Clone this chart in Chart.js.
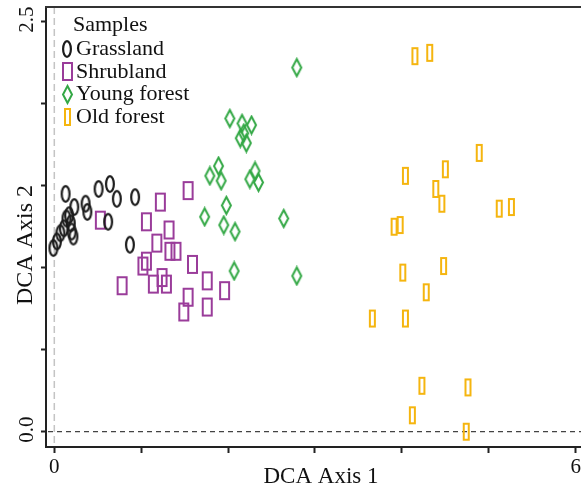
<!DOCTYPE html>
<html><head><meta charset="utf-8">
<script src="https://cdn.jsdelivr.net/npm/chart.js@4.4.1/dist/chart.umd.min.js"></script>
<style>html,body{margin:0;padding:0;background:#fff;overflow:hidden}canvas{display:block}</style>
</head><body>
<canvas id="c" width="581" height="485"></canvas>
<script>
// ---- data ----
const seriesNames = ['Grassland', 'Shrubland', 'Young forest', 'Old forest'];
const legendTitle = 'Samples';
const xTitle = 'DCA Axis 1';
const yTitle = 'DCA Axis 2';
const xTickValues = [0, 1, 2, 3, 4, 5, 6];
const xTickLabels = ['0', '', '', '', '', '', '6'];
const yTickValues = [0, 0.5, 1, 1.5, 2, 2.5];
const yTickLabels = ['0.0', '', '', '', '', '2.5'];

const grassX = [0.13, 0.51, 0.64, 0.72, 0.93, 0.23, 0.36, 0.38, 0.14, 0.17, 0.19, 0.11, 0.20, 0.22, 0.07, 0.03, -0.01, 0.62, 0.87];
const grassY = [1.45, 1.48, 1.51, 1.42, 1.43, 1.37, 1.39, 1.34, 1.30, 1.32, 1.27, 1.24, 1.22, 1.19, 1.21, 1.16, 1.12, 1.28, 1.14];

const shrubX = [0.53, 1.54, 1.22, 1.06, 1.32, 1.18, 1.33, 1.40, 1.06, 1.02, 1.59, 1.24, 1.29, 1.14, 0.78, 1.76, 1.96, 1.54, 1.76, 1.49];
const shrubY = [1.29, 1.47, 1.40, 1.28, 1.23, 1.15, 1.10, 1.10, 1.04, 1.01, 1.02, 0.94, 0.90, 0.90, 0.89, 0.92, 0.86, 0.82, 0.76, 0.73];

const youngX = [2.79, 2.02, 2.16, 2.27, 2.18, 2.14, 2.21, 1.89, 1.79, 1.92, 2.31, 2.25, 2.35, 1.98, 1.73, 1.95, 2.08, 2.64, 2.07, 2.79];
const youngY = [2.22, 1.91, 1.88, 1.87, 1.82, 1.79, 1.76, 1.62, 1.56, 1.53, 1.59, 1.54, 1.52, 1.38, 1.31, 1.26, 1.22, 1.30, 0.98, 0.95];

const oldX = [4.15, 4.32, 4.89, 4.50, 4.04, 4.39, 4.46, 5.12, 5.26, 3.91, 3.98, 4.01, 4.48, 4.28, 3.66, 4.04, 4.23, 4.76, 4.12, 4.74];
const oldY = [2.29, 2.31, 1.70, 1.60, 1.56, 1.48, 1.39, 1.36, 1.37, 1.25, 1.26, 0.97, 1.01, 0.85, 0.69, 0.69, 0.28, 0.27, 0.10, 0.00];

// ---- styling ----
const SERIF = '"Liberation Serif", "Times New Roman", serif';
const colors = ['#1c1c1c', '#9a3c9a', '#33a845', '#f5b50f'];

function makeMarker(kind, color, w, h, lw) {
  const c = document.createElement('canvas');
  c.width = w + 2; c.height = h + 2;
  const g = c.getContext('2d');
  g.strokeStyle = color; g.lineWidth = lw;
  const cx = c.width / 2, cy = c.height / 2, rw = (w - lw) / 2, rh = (h - lw) / 2;
  g.beginPath();
  if (kind === 'ellipse') g.ellipse(cx, cy, rw, rh, 0, 0, Math.PI * 2);
  else if (kind === 'rect') g.rect(cx - rw, cy - rh, 2 * rw, 2 * rh);
  else { g.moveTo(cx, cy - rh); g.lineTo(cx + rw, cy); g.lineTo(cx, cy + rh); g.lineTo(cx - rw, cy); g.closePath(); }
  g.stroke();
  return c;
}
const markers = [
  makeMarker('ellipse', colors[0], 10, 18, 2.2),
  makeMarker('rect', colors[1], 11, 19, 2),
  makeMarker('diamond', colors[2], 11, 19, 2),
  makeMarker('rect', colors[3], 7, 18, 2)
];

const toPts = (xs, ys) => xs.map((v, i) => ({ x: v, y: ys[i] }));
const seriesData = [toPts(grassX, grassY), toPts(shrubX, shrubY), toPts(youngX, youngY), toPts(oldX, oldY)];

const overlay = {
  id: 'overlay',
  beforeDatasetsDraw(chart) {
    const { ctx, chartArea: a, scales: { x, y } } = chart;
    ctx.save();
    const x0 = x.getPixelForValue(0);
    ctx.strokeStyle = '#c4c4c4'; ctx.lineWidth = 1.5; ctx.setLineDash([7, 4]);
    ctx.beginPath(); ctx.moveTo(x0, a.top); ctx.lineTo(x0, a.bottom); ctx.stroke();
    const y0 = y.getPixelForValue(0);
    ctx.strokeStyle = '#444'; ctx.lineWidth = 1.2; ctx.setLineDash([5, 4]);
    ctx.beginPath(); ctx.moveTo(a.left + 2, y0); ctx.lineTo(a.right, y0); ctx.stroke();
    ctx.setLineDash([]);
    ctx.strokeStyle = '#333'; ctx.lineWidth = 2;
    ctx.beginPath(); ctx.moveTo(a.left - 1, a.top); ctx.lineTo(a.right, a.top); ctx.stroke();
    ctx.restore();
  },
  afterDraw(chart) {
    const { ctx, scales: { y } } = chart;
    ctx.save();
    ctx.fillStyle = '#111';
    ctx.font = '21px ' + SERIF;
    ctx.textAlign = 'center'; ctx.textBaseline = 'alphabetic';
    yTickValues.forEach((v, i) => {
      if (!yTickLabels[i]) return;
      ctx.save();
      ctx.translate(33, y.getPixelForValue(v) - 2);
      ctx.rotate(-Math.PI / 2);
      ctx.fillText(yTickLabels[i], 0, 0);
      ctx.restore();
    });
    ctx.font = '23px ' + SERIF;
    ctx.fillText(xTitle, 321, 483);
    ctx.save();
    ctx.font = '24px ' + SERIF;
    ctx.translate(32, 245);
    ctx.rotate(-Math.PI / 2);
    ctx.fillText(yTitle, 0, 0);
    ctx.restore();
    ctx.font = '22px ' + SERIF;
    ctx.textAlign = 'left';
    ctx.fillText(legendTitle, 73, 31);
    seriesNames.forEach((name, i) => {
      const cy = 49 + i * 22.5;
      const m = markers[i];
      ctx.drawImage(m, Math.round(67 - m.width / 2), Math.round(cy - m.height / 2));
      ctx.fillText(name, 76, 55 + i * 22.5);
    });
    ctx.restore();
  }
};

new Chart(document.getElementById('c'), {
  type: 'scatter',
  data: {
    datasets: seriesNames.map((name, i) => ({
      label: name,
      data: seriesData[i],
      pointStyle: markers[i],
      pointRadius: 8,
      pointHoverRadius: 8
    }))
  },
  options: {
    responsive: false,
    animation: false,
    events: [],
    layout: { autoPadding: false, padding: { top: 7, right: 0, left: 0, bottom: 0 } },
    plugins: { legend: { display: false }, tooltip: { enabled: false }, title: { display: false } },
    scales: {
      x: {
        type: 'linear', position: 'bottom', min: -0.0955, max: 6.061,
        afterBuildTicks: s => { s.ticks = xTickValues.map(v => ({ value: v })); },
        afterFit: s => { s.height = 38; s.paddingLeft = 0; s.paddingRight = 0; },
        ticks: {
          autoSkip: false, maxRotation: 0, minRotation: 0, padding: 2,
          callback: v => xTickLabels[xTickValues.indexOf(v)] || '',
          font: { family: SERIF, size: 21 }, color: '#111'
        },
        grid: { display: true, drawOnChartArea: false, drawTicks: true, tickLength: 6, tickWidth: 2, color: '#222' },
        border: { display: true, color: '#222', width: 2 }
      },
      y: {
        type: 'linear', position: 'left', min: -0.0933, max: 2.5896,
        afterBuildTicks: s => { s.ticks = yTickValues.map(v => ({ value: v })); },
        afterFit: s => { s.width = 46; s.paddingTop = 0; s.paddingBottom = 0; },
        ticks: { display: false },
        grid: { display: true, drawOnChartArea: false, drawTicks: true, tickLength: 5, tickWidth: 2, color: '#222' },
        border: { display: true, color: '#222', width: 2 }
      }
    }
  },
  plugins: [overlay]
});
</script>
</body></html>
